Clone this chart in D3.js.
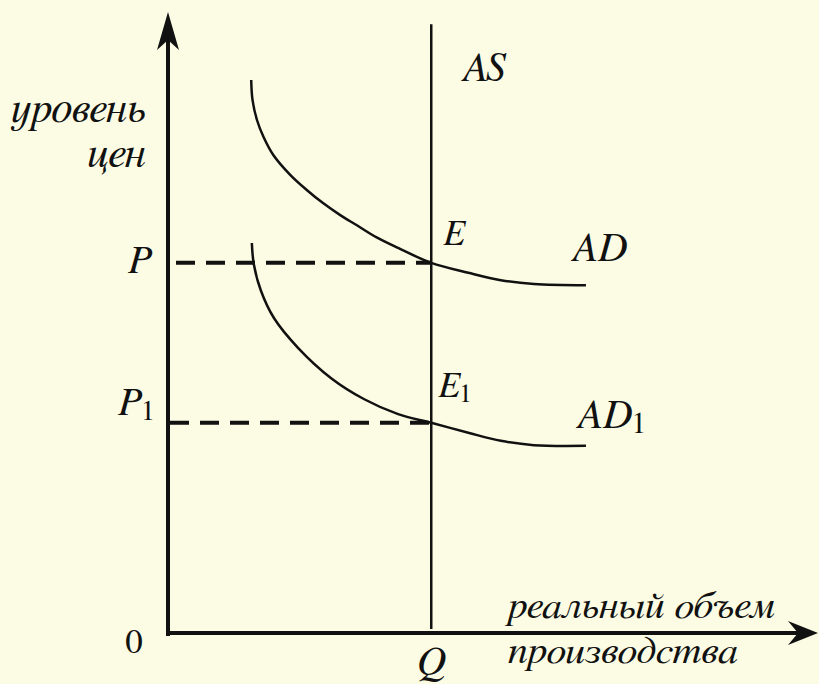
<!DOCTYPE html>
<html>
<head>
<meta charset="utf-8">
<script src="https://cdn.jsdelivr.net/npm/d3@7"></script>
<style>
  html, body { margin: 0; padding: 0; background: #fcfce4; }
</style>
</head>
<body>
<div id="chart"></div>
<script>
// AD and AD1 curves (units: 0..100 on both axes)
var adX  = [12.8, 13.0, 13.7, 14.7, 16.2, 18.8, 21.3, 23.9, 26.5, 29.0, 32.1, 35.4, 40.5, 46.2, 51.2, 56.3, 64.3];
var adY  = [89.2, 86.0, 82.7, 80.0, 77.1, 73.9, 71.5, 69.3, 67.4, 65.8, 63.8, 62.1, 59.7, 58.1, 56.9, 56.3, 56.1];
var ad1X = [12.9, 13.2, 14.3, 16.3, 20.0, 25.1, 30.2, 35.4, 40.5, 46.2, 51.2, 56.3, 64.3];
var ad1Y = [62.9, 59.5, 55.2, 50.8, 46.0, 41.1, 37.7, 35.3, 33.9, 32.3, 31.0, 30.3, 30.2];

// equilibrium levels
var qLevel = 40.5,
    pLevels = [59.7, 33.9],
    asTop = 98.2;

var width = 819,
    height = 684,
    ink = "#111",
    serif = "'FreeSerif', 'Liberation Serif', serif";

var svg = d3.select("#chart")
  .append("svg")
  .attr("width", width)
  .attr("height", height);

svg.append("rect")
  .attr("width", width)
  .attr("height", height)
  .attr("fill", "#fcfce4");

var x = d3.scaleLinear().domain([0, 100]).range([168, 818]),
    y = d3.scaleLinear().domain([0, 100]).range([633, 13]);

var line = d3.line()
  .x(function (d) { return x(d[0]); })
  .y(function (d) { return y(d[1]); })
  .curve(d3.curveCatmullRom.alpha(0.5));

// axes with arrow heads
svg.append("line")
  .attr("x1", x(0)).attr("y1", y(0) + 3)
  .attr("x2", x(0)).attr("y2", y(99) + 20)
  .attr("stroke", ink).attr("stroke-width", 4);

svg.append("line")
  .attr("x1", x(0) - 2).attr("y1", y(0))
  .attr("x2", x(100) - 20).attr("y2", y(0))
  .attr("stroke", ink).attr("stroke-width", 4);

var yTip = [x(0), y(100) - 1],
    xTip = [x(100), y(0)];

svg.append("path")
  .attr("d", "M" + yTip[0] + "," + yTip[1] +
             "L" + (yTip[0] + 11) + "," + (yTip[1] + 38) +
             "L" + yTip[0] + "," + (yTip[1] + 28) +
             "L" + (yTip[0] - 11) + "," + (yTip[1] + 38) + "Z")
  .attr("fill", ink);

svg.append("path")
  .attr("d", "M" + xTip[0] + "," + xTip[1] +
             "L" + (xTip[0] - 30) + "," + (xTip[1] - 12) +
             "L" + (xTip[0] - 20) + "," + xTip[1] +
             "L" + (xTip[0] - 30) + "," + (xTip[1] + 12) + "Z")
  .attr("fill", ink);

// AS vertical
svg.append("line")
  .attr("x1", x(qLevel)).attr("y1", y(asTop))
  .attr("x2", x(qLevel)).attr("y2", y(0) - 4)
  .attr("stroke", ink).attr("stroke-width", 2.5);

// dashed price levels
svg.selectAll(".plevel")
  .data(pLevels)
  .enter()
  .append("line")
  .attr("class", "plevel")
  .attr("x1", function (d, i) { return x(0) + (i === 0 ? 8 : 2); })
  .attr("x2", x(qLevel))
  .attr("y1", function (d) { return y(d); })
  .attr("y2", function (d) { return y(d); })
  .attr("stroke", ink)
  .attr("stroke-width", 4)
  .attr("stroke-dasharray", "19,11");

// demand curves
[[adX, adY], [ad1X, ad1Y]].forEach(function (s) {
  svg.append("path")
    .datum(d3.zip(s[0], s[1]))
    .attr("d", line)
    .attr("fill", "none")
    .attr("stroke", ink)
    .attr("stroke-width", 2.5);
});

// labels
function label(txt, px, py, size, anchor, sub) {
  var t = svg.append("text")
    .attr("x", px).attr("y", py)
    .attr("fill", ink)
    .style("font-family", serif)
    .style("font-style", "italic")
    .style("font-size", size + "px")
    .attr("text-anchor", anchor || "start")
    .text(txt);
  if (sub) {
    t.append("tspan")
      .style("font-style", "normal")
      .style("font-size", (size * 0.72) + "px")
      .attr("dy", 5)
      .text(sub);
  }
  return t;
}

label("уровень", x(0) - 22, 122, 43, "end");
label("цен", x(0) - 22, 167, 43, "end");

label("AS", x(qLevel) + 30, y(asTop) + 57, 41);
label("E", x(qLevel) + 12, y(pLevels[0]) - 18, 36);
label("AD", x(adX[adX.length - 1]) - 15, y(pLevels[0]) - 2, 41);
label("E", x(qLevel) + 7, y(pLevels[1]) - 26, 36, "start", "1");
label("AD", x(ad1X[ad1X.length - 1]) - 10, y(pLevels[1]) + 5, 41, "start", "1");

label("P", x(0) - 40, y(pLevels[0]) + 10, 40);
label("P", x(0) - 50, y(pLevels[1]) - 8, 40, "start", "1");

label("0", x(0) - 34, y(0) + 20, 35, "middle").style("font-style", "normal");
label("Q", x(qLevel), y(0) + 42, 41, "middle");

label("реальный объем", 508, y(0) - 15, 38).attr("textLength", 267).attr("lengthAdjust", "spacingAndGlyphs");
label("производства", 508, y(0) + 30, 38).attr("textLength", 230).attr("lengthAdjust", "spacingAndGlyphs");
</script>
</body>
</html>
